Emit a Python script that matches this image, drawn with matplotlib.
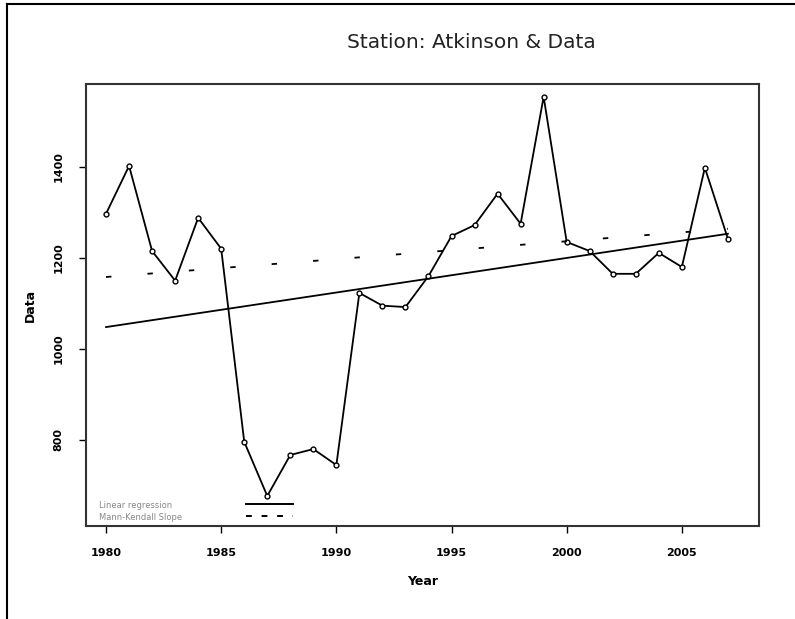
import matplotlib.pyplot as plt
from matplotlib.lines import Line2D

# data
years = list(range(1980, 2008))
values = [1297, 1402, 1215, 1150, 1288, 1220, 796, 677, 767, 780,
          745, 1123, 1095, 1092, 1160, 1248, 1272, 1341, 1275, 1554,
          1235, 1215, 1165, 1165, 1211, 1180, 1398, 1242]

# trend lines (end points)
trend_years = [1980, 2007]
linreg = [1048, 1253]
mann_kendall = [1158, 1264]

xticks = [1980, 1985, 1990, 1995, 2000, 2005]
yticks = [800, 1000, 1200, 1400]

fig = plt.figure(figsize=(7.95, 6.19), dpi=100)
W, H = 795, 619
ax = fig.add_axes([86 / W, 1 - 526 / H, (759 - 86) / W, (526 - 84) / H])

ax.plot(years, values, color='black', lw=1.3, marker='o', ms=3.5,
        mfc='white', mec='black', mew=1)
ax.plot(trend_years, linreg, color='black', lw=1.3)
ax.plot(trend_years, mann_kendall, color='black', lw=1.3,
        linestyle=(0, (3, 20)))

ax.set_xlim(1979.13, 2008.35)
ax.set_ylim(611, 1582)
ax.set_xticks(xticks)
ax.set_yticks(yticks)
ax.tick_params(labelsize=8, length=5, width=1, pad=11)
for lab in ax.get_xticklabels():
    lab.set_fontweight('bold')
for lab in ax.get_yticklabels():
    lab.set_fontweight('bold')
    lab.set_rotation(90)
    lab.set_va('center')
for sp in ax.spines.values():
    sp.set_linewidth(1.5)
    sp.set_color('#333333')

ax.set_xlabel('Year', fontsize=9, fontweight='bold', labelpad=12)
ax.set_ylabel('Data', fontsize=9, fontweight='bold', labelpad=12)
fig.text(471 / W, 1 - 43 / H, 'Station: Atkinson & Data', fontsize=14.5,
         ha='center', va='center', color='#222222')

# legend drawn by hand like the original
ax.text(0.02, 0.047, 'Linear regression', transform=ax.transAxes,
        fontsize=6, color='#888888', va='center')
ax.text(0.02, 0.02, 'Mann-Kendall Slope', transform=ax.transAxes,
        fontsize=6, color='#888888', va='center')
ax.add_line(Line2D([0.238, 0.308], [0.05, 0.05], transform=ax.transAxes,
                   color='black', lw=1.4))
ax.add_line(Line2D([0.238, 0.308], [0.022, 0.022], transform=ax.transAxes,
                   color='black', lw=1.4, linestyle=(0, (3, 5))))

# outer border (top and left only)
fig.add_artist(Line2D([7 / W, 7 / W], [0, 1 - 4 / H], color='black', lw=1.5))
fig.add_artist(Line2D([7 / W, 1], [1 - 4 / H, 1 - 4 / H], color='black', lw=1.5))

fig.savefig('out.png', dpi=100)
